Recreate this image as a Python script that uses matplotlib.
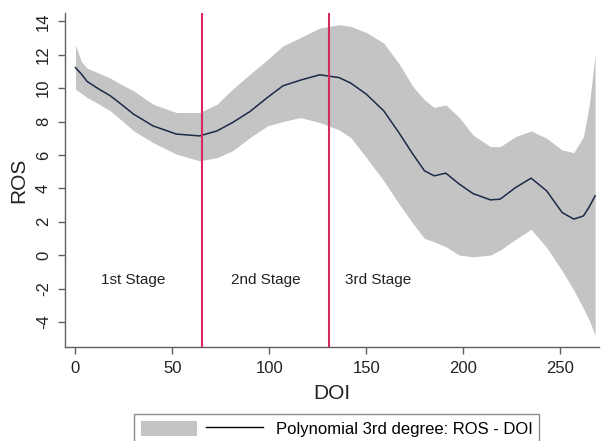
import numpy as np
import matplotlib
matplotlib.use("Agg")
import matplotlib.pyplot as plt
from matplotlib.patches import Patch
from matplotlib.lines import Line2D

plt.rcParams['font.family'] = ['Liberation Sans', 'DejaVu Sans']
plt.rcParams['axes.unicode_minus'] = False

# DOI grid
doi = [0, 3, 6, 12, 18, 24, 30, 40, 52, 64, 73, 81, 90, 99, 107, 116, 126, 136,
       142, 150, 159, 167, 174, 180, 185, 191, 198, 205, 214, 219, 227, 235, 243,
       251, 257, 262, 265, 268]

# fitted ROS (polynomial 3rd degree, local fit)
ros_fit = [11.23, 10.85, 10.4, 9.95, 9.54, 9.0, 8.44, 7.74, 7.25, 7.14, 7.44, 7.94,
           8.6, 9.44, 10.14, 10.48, 10.8, 10.63, 10.3, 9.64, 8.64, 7.3, 6.05, 5.05,
           4.75, 4.91, 4.25, 3.69, 3.31, 3.35, 4.05, 4.61, 3.85, 2.55, 2.16, 2.35,
           2.9, 3.55]

# confidence band
ros_upper = [12.6, 11.6, 11.2, 10.9, 10.6, 10.2, 9.84, 9.04, 8.54, 8.54, 9.04, 9.94,
             10.84, 11.7, 12.53, 13.03, 13.6, 13.8, 13.7, 13.33, 12.7, 11.44, 10.1,
             9.3, 8.84, 9.0, 8.24, 7.2, 6.5, 6.5, 7.1, 7.44, 7.0, 6.3, 6.14, 7.1,
             9.0, 12.0]
ros_lower = [9.94, 9.7, 9.44, 9.05, 8.64, 8.05, 7.44, 6.74, 6.05, 5.65, 5.84, 6.25,
             7.04, 7.74, 8.0, 8.24, 7.94, 7.5, 7.04, 5.84, 4.45, 3.05, 1.9, 1.0, 0.8,
             0.5, 0.0, -0.1, 0.0, 0.3, 0.95, 1.55, 0.46, -0.94, -2.1, -3.2, -3.9, -4.8]

# stage boundaries and labels
stage_breaks = [65, 131]
stage_names = ["1st Stage", "2nd Stage", "3rd Stage"]
stage_x = [30, 98, 156]
stage_y = -1.5

band_col = '#c4c4c4'
line_col = '#1c2a48'
red_col = '#d62a5c'

fig = plt.figure(figsize=(6.03, 4.41), dpi=100)
ax = fig.add_axes([65 / 603, 1 - 347 / 441, 534 / 603, 334 / 441])

ax.fill_between(doi, ros_lower, ros_upper, color=band_col, lw=0, zorder=1)
ax.plot(doi, ros_fit, color=line_col, lw=1.1, zorder=3)
for b in stage_breaks:
    ax.axvline(b, color=red_col, lw=1.5, zorder=4)
for name, sx in zip(stage_names, stage_x):
    ax.text(sx, stage_y, name, fontsize=11, ha='center', va='center', color='#222222')

ax.set_xlim(-5.4, 270)
ax.set_ylim(-5.5, 14.5)
ax.set_xticks([0, 50, 100, 150, 200, 250])
ax.set_yticks(range(-4, 15, 2))

for s in ['top', 'right']:
    ax.spines[s].set_visible(False)
for s in ['left', 'bottom']:
    ax.spines[s].set_color('#606060')
    ax.spines[s].set_linewidth(1.0)

ax.tick_params(axis='both', direction='out', length=5, width=1, color='#606060',
               labelsize=12, labelcolor='#222222', pad=5)
for lab in ax.get_yticklabels():
    lab.set_rotation(90)
    lab.set_va('center')

ax.set_xlabel("DOI", fontsize=15, color='#222222', labelpad=6)
ax.set_ylabel("ROS", fontsize=15, color='#222222', labelpad=6)

handles = [Patch(facecolor=band_col, edgecolor='none'),
           Line2D([], [], color='black', lw=1)]
leg = fig.legend(handles, ['', 'Polynomial 3rd degree: ROS - DOI'],
                 loc='upper center', bbox_to_anchor=(336.5 / 603, 1 - 414 / 441),
                 ncol=2, fontsize=12, frameon=True, fancybox=False,
                 handlelength=3.4, handleheight=1.0, handletextpad=0.75,
                 columnspacing=-0.2, borderpad=0.4, borderaxespad=0)
leg.get_frame().set_edgecolor('#707070')
leg.get_frame().set_linewidth(1.0)

fig.savefig('out.png', dpi=100)
